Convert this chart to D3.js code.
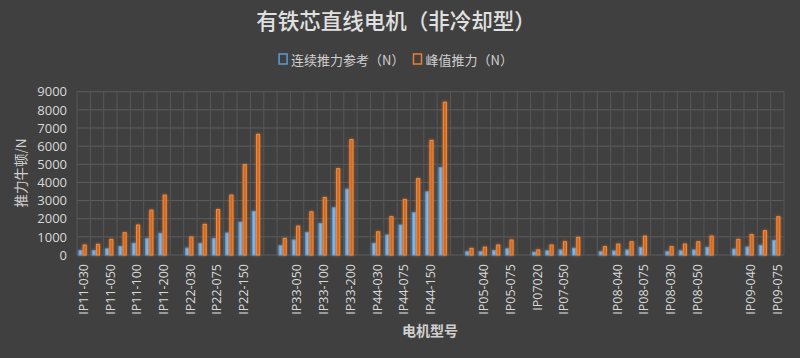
<!DOCTYPE html>
<html><head><meta charset="utf-8">
<script src="https://cdn.jsdelivr.net/npm/d3@7"></script>
<style>
html,body{margin:0;padding:0;background:#404040;}
svg{display:block;}
</style></head>
<body>
<script>
const categories = ["IP11-030","IP11-040","IP11-050","IP11-075","IP11-100","IP11-150","IP11-200","",
"IP22-030","IP22-050","IP22-075","IP22-100","IP22-150","IP22-200","",
"IP33-030","IP33-050","IP33-075","IP33-100","IP33-150","IP33-200","",
"IP44-030","IP44-050","IP44-075","IP44-100","IP44-150","IP44-200","",
"IP05-030","IP05-040","IP05-050","IP05-075","",
"IP07020","IP07-030","IP07-050","IP07-075","",
"IP08-030","IP08-040","IP08-050","IP08-075","",
"IP08-030","IP08-040","IP08-050","IP08-075","",
"IP09-030","IP09-040","IP09-050","IP09-075"];
const continuousForce = [240,240,340,470,640,900,1190,null,
380,640,900,1210,1810,2400,null,
510,825,1245,1740,2600,3625,null,
640,1100,1650,2330,3480,4820,null,
180,180,240,340,null,
150,230,275,370,null,
180,220,275,420,null,
180,230,275,420,null,
320,440,530,800];
const peakForce = [550,590,860,1230,1650,2470,3300,null,
990,1690,2510,3300,4980,6650,null,
915,1590,2380,3170,4760,6360,null,
1280,2110,3060,4210,6320,8420,null,
365,430,550,825,null,
280,550,730,970,null,
460,600,730,1040,null,
460,600,730,1040,null,
860,1120,1340,2110];
const seriesNames = ["连续推力参考（N）","峰值推力（N）"];
const yTicks = [0,1000,2000,3000,4000,5000,6000,7000,8000,9000];

const W = 800, H = 358;
const m = {left:77, right:16, top:91.7, bottom:103};
const svg = d3.select("body").append("svg").attr("width",W).attr("height",H);
svg.append("rect").attr("width",W).attr("height",H).attr("fill","#404040");

const defs = svg.append("defs");
function glow(id, color){
  const f = defs.append("filter").attr("id",id).attr("x","-150%").attr("y","-20%").attr("width","400%").attr("height","140%");
  f.append("feGaussianBlur").attr("in","SourceAlpha").attr("stdDeviation",1.6).attr("result","b");
  f.append("feFlood").attr("flood-color",color).attr("flood-opacity",0.75);
  f.append("feComposite").attr("in2","b").attr("operator","in").attr("result","g");
  const mg = f.append("feMerge");
  mg.append("feMergeNode").attr("in","g");
  mg.append("feMergeNode").attr("in","SourceGraphic");
}
glow("gb","#5b9bd5");
glow("go","#ed7d31");

const idx = categories.map((d,i)=>i);
const x = d3.scaleBand().domain(idx).range([m.left, W-m.right]).padding(0);
const y = d3.scaleLinear().domain([0,9000]).range([H-m.bottom, m.top]);
const bw = x.bandwidth();
const x1 = d3.scaleBand().domain([0,1]).range([bw/2-5.4, bw/2+3.2]).padding(0.04);

// grid
const g = svg.append("g");
g.selectAll("line.h").data(yTicks).join("line")
  .attr("x1",m.left).attr("x2",W-m.right)
  .attr("y1",d=>y(d)).attr("y2",d=>y(d))
  .attr("stroke","#5c5c5c").attr("stroke-width",1);
g.selectAll("line.v").data(idx.concat([categories.length])).join("line")
  .attr("x1",d=> d<categories.length ? x(d) : W-m.right)
  .attr("x2",d=> d<categories.length ? x(d) : W-m.right)
  .attr("y1",y(0)).attr("y2",y(9000))
  .attr("stroke","#575757").attr("stroke-width",1);

// bars
const series = [
  {vals:continuousForce, fill:"#8db3dc", stroke:"#5b9bd5", f:"gb"},
  {vals:peakForce, fill:"#d06a22", stroke:"#f48a3a", f:"go"}
];
series.forEach((s,si)=>{
  svg.append("g").attr("filter",`url(#${s.f})`)
    .selectAll("rect").data(idx.filter(i=>s.vals[i]!=null)).join("rect")
    .attr("x",i=>x(i)+x1(si)+0.5)
    .attr("width",x1.bandwidth()-1)
    .attr("y",i=>y(s.vals[i]))
    .attr("height",i=>y(0)-y(s.vals[i]))
    .attr("fill",s.fill).attr("stroke",s.stroke).attr("stroke-width",1);
});

// y axis
const yAxis = svg.append("g").attr("transform",`translate(${m.left},0)`)
  .call(d3.axisLeft(y).tickValues(yTicks).tickFormat(d3.format("d")).tickSize(0).tickPadding(10));
yAxis.select(".domain").remove();
yAxis.selectAll("text").attr("fill","#d9d9d9").style("font-family","'Open Sans','Noto Sans',sans-serif").style("font-size","13px");

// x axis
const xAxis = svg.append("g").attr("transform",`translate(0,${y(0)})`)
  .call(d3.axisBottom(x).tickSize(0).tickFormat(i=> i%2===0 ? categories[i] : ""));
xAxis.select(".domain").remove();
xAxis.selectAll("text")
  .attr("transform","rotate(-90)")
  .attr("x",-9).attr("y",0).attr("dy","0.35em")
  .attr("text-anchor","end")
  .attr("fill","#d9d9d9")
  .style("font-family","'Open Sans','Noto Sans',sans-serif").style("font-size","12.5px");

// titles
svg.append("text").attr("x",396).attr("y",29).attr("text-anchor","middle")
  .attr("fill","#e0e0e0").style("font-family","'Noto Sans CJK SC',sans-serif")
  .style("font-size","21.5px").style("font-weight","500").text("有铁芯直线电机（非冷却型）");

svg.append("text").attr("transform","translate(26,173) rotate(-90)").attr("text-anchor","middle")
  .attr("fill","#d0d0d0").style("font-family","'Noto Sans CJK SC',sans-serif")
  .style("font-size","13.5px").text("推力牛顿/N");

svg.append("text").attr("x",430).attr("y",336).attr("text-anchor","middle")
  .attr("fill","#d0d0d0").style("font-family","'Noto Sans CJK SC',sans-serif")
  .style("font-size","14px").style("font-weight","bold").text("电机型号");

// legend: laid out from measured text widths, centred where the reference legend sits
const legendColors = ["#5b9bd5","#ed7d31"];
const lg = svg.append("g");
const items = seriesNames.map((name,i)=>{
  const it = lg.append("g");
  it.append("rect").attr("x",0).attr("y",54).attr("width",8).attr("height",10)
    .attr("fill","none").attr("stroke",legendColors[i]).attr("stroke-width",1.5);
  const t = it.append("text").attr("x",12).attr("y",64.5)
    .attr("fill","#d0d0d0").style("font-family","'Noto Sans CJK SC',sans-serif")
    .style("font-size","13px").text(name);
  return {it, w: 12 + t.node().getComputedTextLength()};
});
const gap = 9;
const total = items.reduce((a,b)=>a+b.w,0) + gap;
let cx = 396 - total/2;
items.forEach(o=>{ o.it.attr("transform",`translate(${cx},0)`); cx += o.w + gap; });
</script>
</body></html>
